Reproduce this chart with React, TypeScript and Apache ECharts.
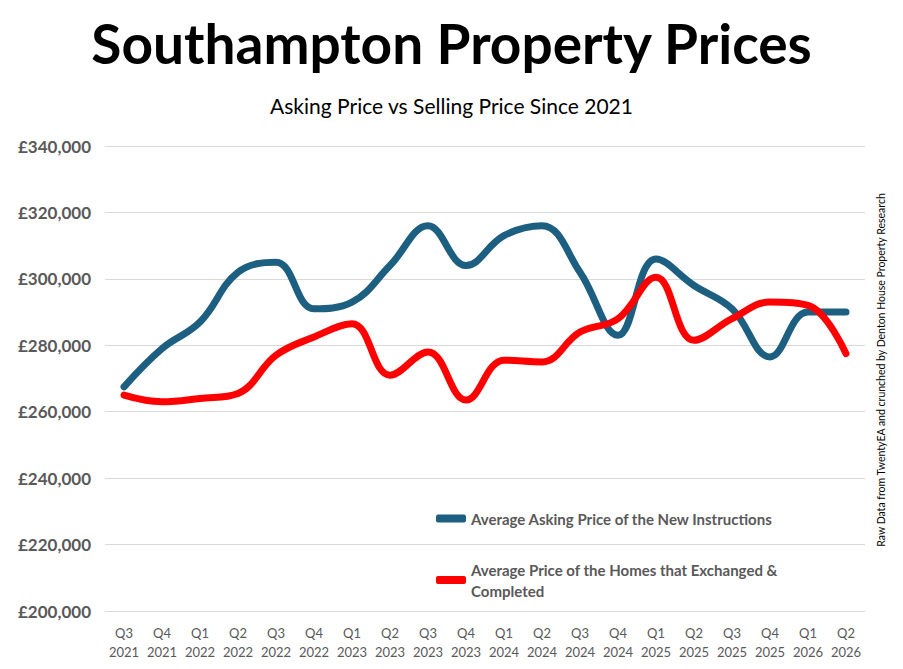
import React, { useEffect, useRef } from "react";
import * as echarts from "echarts";

const quarters = ["Q3","Q4","Q1","Q2","Q3","Q4","Q1","Q2","Q3","Q4","Q1","Q2","Q3","Q4","Q1","Q2","Q3","Q4","Q1","Q2"];
const years = ["2021","2021","2022","2022","2022","2022","2023","2023","2023","2023","2024","2024","2024","2024","2025","2025","2025","2025","2026","2026"];
const asking = [267500,279000,287000,302000,305000,291000,293000,304000,316000,304000,313000,316000,302000,283000,306000,298000,291000,276500,290000,290000];
const selling = [265000,263000,264000,265500,277000,282500,286500,271000,278000,263500,275500,275000,284000,288000,300500,281500,288000,293000,292000,277500];
const seriesNames = ["Average Asking Price of the New Instructions","Average Price of the Homes that Exchanged &\nCompleted"];

export default function App() {
  const ref = useRef<HTMLDivElement>(null);
  useEffect(() => {
    const chart = echarts.init(ref.current!, null, { renderer: "svg" });
    const font = "Lato, 'Open Sans', sans-serif";
    chart.setOption({
      animation: false,
      textStyle: { fontFamily: font },
      title: [
        { text: "Southampton Property Prices", left: "center", top: 2, textStyle: { fontSize: 55, fontWeight: "bold", color: "#000", fontFamily: font } },
        { text: "Asking Price vs Selling Price Since 2021", left: "center", top: 82, textStyle: { fontSize: 21, fontWeight: "normal", color: "#000", fontFamily: font } },
      ],
      graphic: [{
        type: "text", x: 873, y: 362, rotation: Math.PI / 2, originX: 0, originY: 0,
        style: { text: "Raw Data from TwentyEA and crunched by Denton House Property Research", fontSize: 10.5, fill: "#000", fontFamily: font, align: "center", verticalAlign: "middle" },
      }],
      legend: {
        orient: "vertical", left: 423, top: 495, itemGap: 30, itemWidth: 30, itemHeight: 8, icon: "roundRect",
        textStyle: { fontSize: 15, fontWeight: "bold", color: "#595959", fontFamily: font, lineHeight: 21 },
        data: seriesNames,
      },
      grid: { left: 97, right: 30, top: 138, bottom: 49 },
      xAxis: {
        type: "category", boundaryGap: true,
        data: quarters.map((q, i) => q + "\n" + years[i]),
        axisLine: { show: false }, axisTick: { show: false },
        axisLabel: { color: "#595959", fontSize: 13, lineHeight: 19, margin: 12, interval: 0 },
      },
      yAxis: {
        type: "value", min: 200000, max: 340000, interval: 20000,
        axisLabel: { color: "#595959", fontSize: 17, fontWeight: "bold", margin: 14, formatter: (v: number) => "£" + v.toLocaleString("en-GB") },
        splitLine: { lineStyle: { color: "#d9d9d9", width: 1 } },
      },
      series: [
        { name: seriesNames[0], type: "line", data: asking, smooth: 0.4, symbol: "none", lineStyle: { width: 7, color: "#1d5f80", cap: "round" }, itemStyle: { color: "#1d5f80" } },
        { name: seriesNames[1], type: "line", data: selling, smooth: 0.4, symbol: "none", lineStyle: { width: 7, color: "#ff0000", cap: "round" }, itemStyle: { color: "#ff0000" } },
      ],
    });
    return () => chart.dispose();
  }, []);
  return <div ref={ref} style={{ width: 887, height: 653 }} />;
}
